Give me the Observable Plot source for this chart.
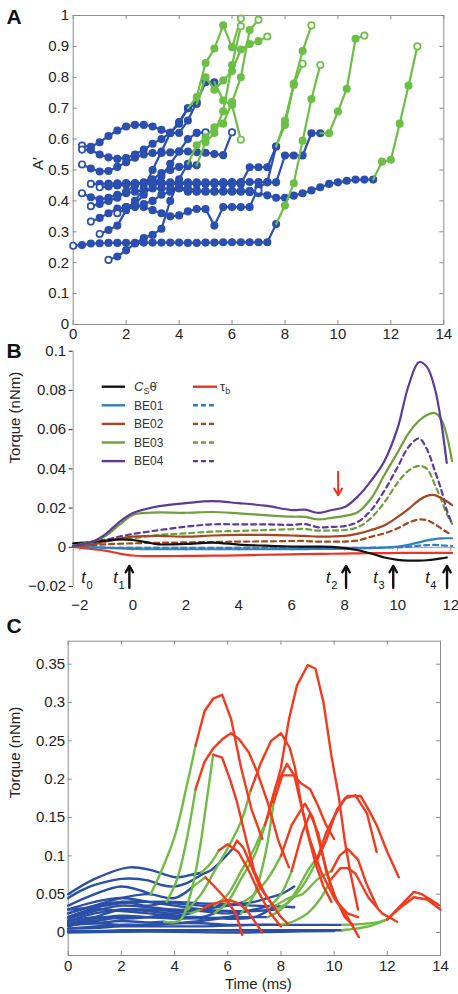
<!DOCTYPE html>
<html><head><meta charset="utf-8">
<script src="https://cdn.jsdelivr.net/npm/d3@7"></script>
<script src="https://cdn.jsdelivr.net/npm/@observablehq/plot@0.6"></script>
<style>
html,body{margin:0;padding:0;background:#fff;overflow:hidden;}
#root{position:relative;width:458px;height:994px;}
#root svg{position:absolute;left:0;}
</style></head><body><div id="root"></div>
<script>
const FONT = "Liberation Sans, Arial, Helvetica, sans-serif";
const W = 458;

// ---------- Panel A data: trajectories sampled every 1/3 ms (f0 = first frame) ----------
const xTicksA = [0,2,4,6,8,10,12,14];
const yTicksA = [0,0.1,0.2,0.3,0.4,0.5,0.6,0.7,0.8,0.9,1];
const trajA = [
  {f0:0, nBlue:24, a:[0.255,0.257,0.262,0.263,0.264,0.264,0.264,0.264,0.265,0.265,0.265,0.265,0.265,0.264,0.264,0.265,0.265,0.266,0.266,0.266,0.266,0.266,0.266,0.325,0.385,0.457,0.595,0.73,0.84]},
  {f0:1, nBlue:16, a:[0.579,0.575,0.59,0.61,0.628,0.641,0.646,0.646,0.641,0.63,0.62,0.62,0.66,0.72,0.784,0.784,0.725,0.71,0.598]},
  {f0:1, nBlue:13, a:[0.566,0.565,0.55,0.541,0.536,0.539,0.55,0.566,0.585,0.60,0.62,0.655,0.70,0.736,0.846,0.893,0.968,0.897,0.99]},
  {f0:1, nBlue:18, a:[0.518,0.505,0.495,0.497,0.51,0.525,0.54,0.55,0.555,0.555,0.557,0.56,0.56,0.558,0.556,0.552,0.548,0.622]},
  {f0:2, nBlue:22, a:[0.455,0.455,0.456,0.457,0.458,0.458,0.458,0.459,0.459,0.46,0.46,0.46,0.46,0.46,0.46,0.461,0.461,0.461,0.461,0.461,0.461,0.576,0.66,0.78,0.885,0.968]},
  {f0:1, nBlue:34, a:[0.425,0.412,0.405,0.41,0.42,0.425,0.43,0.435,0.44,0.44,0.44,0.442,0.44,0.435,0.432,0.43,0.43,0.43,0.43,0.428,0.425,0.418,0.41,0.41,0.417,0.425,0.434,0.444,0.455,0.46,0.465,0.469,0.469,0.469,0.527,0.533,0.65,0.773,0.90]},
  {f0:2, nBlue:27, a:[0.333,0.345,0.36,0.375,0.38,0.385,0.38,0.37,0.36,0.35,0.353,0.366,0.374,0.374,0.32,0.38,0.38,0.38,0.38,0.444,0.46,0.46,0.547,0.547,0.547,0.619,0.619,0.619,0.689,0.763,0.925,0.935]},
  {f0:4, nBlue:10, a:[0.209,0.22,0.24,0.262,0.28,0.29,0.31,0.40,0.47,0.52,0.58,0.606,0.638,0.65,0.72,0.8,0.953,0.986]},
  {f0:2, nBlue:13, a:[0.383,0.39,0.4,0.41,0.43,0.45,0.46,0.47,0.49,0.5,0.51,0.512,0.515,0.59,0.62,0.69,0.84,0.965]},
  {f0:3, nBlue:12, a:[0.293,0.306,0.32,0.37,0.40,0.44,0.50,0.56,0.62,0.65,0.70,0.714,0.80,0.76,0.79,0.82,0.89,0.908,0.917,0.932]},
  {f0:6, nBlue:10, a:[0.38,0.39,0.42,0.45,0.48,0.52,0.56,0.60,0.62,0.622]},
  {f0:3, nBlue:21, a:[0.444,0.447,0.45,0.452,0.455,0.455,0.455,0.455,0.455,0.455,0.455,0.455,0.455,0.455,0.455,0.455,0.455,0.509,0.509,0.509,0.576,0.646,0.775,0.844]},
  {f0:5, nBlue:17, a:[0.36,0.375,0.38,0.39,0.40,0.42,0.43,0.44,0.43,0.43,0.43,0.432,0.433,0.433,0.433,0.433,0.434]}
];

// ---------- Panel B data ----------
const xTicksB = [-2,0,2,4,6,8,10,12];
const yTicksB = [-0.02,0,0.02,0.04,0.06,0.08,0.1];
const tB = [-2.25,-1.5,-1,-0.5,0,0.5,1,2,3,4,5,6,6.5,7,7.5,8,8.5,9,9.5,10,10.4,10.8,11.1,11.4,11.65,11.85,12.05];
const csTheta  = [0.002,0.0028,0.0034,0.004,0.0037,0.0026,0.0015,0.0017,0.0024,0.0014,0.0008,0.0004,0.0003,0.0003,0.0002,-0.0004,-0.0015,-0.0032,-0.0052,-0.0064,-0.0068,-0.0068,-0.0066,-0.0062,-0.0057,-0.0052,NaN];
const tauB     = [0.0002,-0.001,-0.0018,-0.0032,-0.0042,-0.0045,-0.0045,-0.0044,-0.0043,-0.0041,-0.0038,-0.0036,-0.0035,-0.0034,-0.0033,-0.0032,-0.0031,-0.003,-0.003,-0.0029,-0.0029,-0.0029,-0.0029,-0.0029,-0.0029,-0.0029,-0.0029];
const be01     = [0.0003,0,-0.0003,-0.0006,-0.0008,-0.001,-0.001,-0.001,-0.001,-0.001,-0.001,-0.0009,-0.0009,-0.0008,-0.0008,-0.0007,-0.0006,-0.0004,-0.0002,0.0003,0.0012,0.0025,0.0035,0.0042,0.0045,0.0046,0.0046];
const be01d    = [0.0002,0,-0.0002,-0.0003,-0.0003,-0.0003,-0.0003,-0.0003,-0.0003,-0.0003,-0.0003,-0.0003,-0.0003,-0.0003,-0.0003,-0.0003,-0.0003,-0.0002,-0.0001,0,0.0003,0.0008,0.0011,0.0012,0.001,0.0008,0.0007];
const be02     = [0.0005,0.0015,0.003,0.0045,0.0054,0.0057,0.0058,0.0054,0.006,0.0063,0.0063,0.006,0.0058,0.0054,0.0055,0.0058,0.007,0.0088,0.0112,0.0155,0.0195,0.024,0.0262,0.0266,0.025,0.0235,0.0215];
const be02d    = [0.0003,0.001,0.0015,0.0018,0.002,0.0022,0.0023,0.0025,0.0027,0.0029,0.003,0.0032,0.0032,0.0029,0.0029,0.0029,0.0035,0.0054,0.0071,0.0097,0.0125,0.0142,0.0138,0.0118,0.0095,0.0078,0.0063];
const be03     = [0.0007,0.003,0.006,0.0115,0.0165,0.0175,0.0178,0.0176,0.018,0.0173,0.0164,0.0156,0.0155,0.0142,0.015,0.016,0.018,0.025,0.037,0.0485,0.058,0.0645,0.0675,0.0685,0.065,0.057,0.044];
const be03d    = [0.0003,0.002,0.003,0.004,0.0046,0.0055,0.0063,0.0071,0.008,0.0083,0.0088,0.0092,0.0093,0.0085,0.0086,0.0088,0.0103,0.015,0.023,0.033,0.039,0.0415,0.040,0.032,0.024,0.017,0.012];
const be04     = [0.0007,0.003,0.007,0.013,0.0175,0.0195,0.021,0.0225,0.0235,0.0225,0.0212,0.019,0.0192,0.0175,0.019,0.0205,0.026,0.034,0.044,0.061,0.082,0.0944,0.092,0.081,0.063,0.043,NaN];
const be04d    = [0.0003,0.003,0.004,0.0055,0.0068,0.0078,0.0088,0.0105,0.0117,0.0117,0.0117,0.0114,0.0118,0.0102,0.0104,0.0108,0.013,0.019,0.029,0.041,0.051,0.0555,0.05,0.039,0.029,0.019,0.012];
const legendNames = ["BE01","BE02","BE03","BE04"];
const eventNames = ["0","1","2","3","4"];
const eventLabelX = [-1.86,-0.65,7.38,9.16,11.12];
const eventArrowX = [-0.13,8.05,9.83,11.86];
const redArrowX = [7.75];

// ---------- Panel C data: [time, torque] points; b = last blue index, g = last green index ----------
const xTicksC = [0,2,4,6,8,10,12,14];
const yTicksC = [0,0.05,0.1,0.15,0.2,0.25,0.3,0.35];
const curvesC = [
  {b:3, g:7, p:[[0,0.035],[1,0.05],[2,0.06],[3.1,0.05],[3.5,0.08],[4,0.125],[4.45,0.19],[4.79,0.244],[5.13,0.289],[5.45,0.305],[5.79,0.31],[6.13,0.278],[6.5,0.215],[6.9,0.16],[7.3,0.122]]},
  {b:4, g:7, p:[[0,0.02],[1,0.032],[2,0.04],[3,0.035],[3.7,0.04],[4.1,0.07],[4.45,0.12],[4.79,0.187],[5.13,0.223],[5.45,0.24],[5.79,0.252],[6.12,0.26],[6.43,0.252],[6.79,0.235],[7.1,0.21],[7.5,0.17],[7.9,0.12],[8.3,0.085]]},
  {b:4, g:9, p:[[0,0.01],[1,0.012],[2,0.015],[3,0.013],[3.6,0.014],[4.2,0.016],[4.6,0.05],[4.95,0.11],[5.2,0.17],[5.45,0.232],[5.79,0.228],[6.1,0.198],[6.35,0.17],[6.7,0.12],[7.0,0.08],[7.4,0.05],[7.8,0.03]]},
  {b:5, g:10, p:[[0,0.012],[1,0.02],[2,0.03],[3,0.028],[4,0.025],[4.5,0.03],[5,0.05],[5.5,0.08],[6,0.11],[6.5,0.145],[6.86,0.185],[7.23,0.22],[7.63,0.25],[8.0,0.26],[8.33,0.241],[8.53,0.215],[8.74,0.172],[9.0,0.13],[9.3,0.09],[9.6,0.06],[9.9,0.04]]},
  {b:6, g:10, p:[[0,0.015],[1,0.025],[2,0.03],[3,0.03],[4,0.028],[5,0.03],[5.5,0.035],[6,0.05],[6.5,0.08],[7,0.11],[7.5,0.15],[8,0.215],[8.3,0.278],[8.6,0.322],[9.01,0.349],[9.3,0.344],[9.6,0.3],[9.9,0.23],[10.18,0.176],[10.4,0.12],[10.6,0.08],[10.9,0.03]]},
  {b:6, g:10, p:[[0,0.008],[1,0.015],[2,0.02],[3,0.02],[4,0.018],[5,0.02],[5.5,0.025],[6,0.04],[6.5,0.07],[7,0.1],[7.4,0.14],[7.8,0.19],[8.23,0.22],[8.5,0.205],[8.8,0.16],[9.1,0.12],[9.5,0.08],[10,0.045],[10.5,0.02],[10.93,-0.006]]},
  {b:7, g:10, p:[[0,0.005],[1,0.008],[2,0.01],[3,0.01],[4,0.012],[5,0.015],[6,0.02],[6.5,0.025],[7,0.05],[7.4,0.1],[7.73,0.17],[8.05,0.205],[8.49,0.205],[8.74,0.195],[9.1,0.187],[9.4,0.165],[9.7,0.14],[10.0,0.122]]},
  {b:7, g:10, p:[[0,0.025],[1,0.035],[2,0.04],[3,0.04],[4,0.038],[5,0.035],[6,0.035],[6.6,0.04],[7,0.05],[7.5,0.07],[8,0.1],[8.4,0.14],[8.9,0.168],[9.2,0.15],[9.5,0.11],[9.8,0.07],[10.1,0.04],[10.5,0.025],[10.9,0.02]]},
  {b:8, g:10, p:[[0,0.018],[1,0.028],[2,0.035],[3,0.033],[4,0.03],[5,0.028],[6,0.025],[7,0.03],[7.6,0.035],[8,0.05],[8.4,0.08],[8.8,0.13],[9.1,0.155],[9.4,0.13],[9.7,0.08],[10,0.05],[10.4,0.02],[10.7,0.01]]},
  {b:8, g:12, p:[[0,0.01],[1,0.018],[2,0.022],[3,0.02],[4,0.02],[5,0.018],[6,0.02],[7,0.02],[7.5,0.02],[8,0.03],[8.5,0.05],[9,0.08],[9.4,0.1],[9.7,0.13],[9.98,0.15],[10.4,0.175],[10.8,0.179],[11.24,0.155],[11.6,0.105]]},
  {b:8, g:11, p:[[0,0.03],[1,0.04],[2,0.045],[3,0.04],[4,0.035],[5,0.03],[6,0.028],[7,0.028],[7.8,0.03],[8.3,0.04],[8.8,0.06],[9.3,0.09],[9.7,0.12],[10.1,0.16],[10.5,0.178],[11.0,0.178],[11.3,0.16],[11.6,0.14],[12.0,0.105],[12.43,0.072]]},
  {b:8, g:12, p:[[0,0.012],[1,0.015],[2,0.02],[3,0.02],[4,0.02],[5,0.02],[6,0.018],[7,0.02],[7.8,0.035],[8.3,0.045],[8.8,0.05],[9.4,0.07],[9.9,0.08],[10.2,0.1],[10.5,0.109],[10.9,0.095],[11.2,0.065],[11.62,0.033]]},
  {b:8, g:12, p:[[0,0.005],[1,0.006],[2,0.008],[3,0.008],[4,0.008],[5,0.008],[6,0.009],[7,0.01],[8,0.01],[8.5,0.015],[9,0.025],[9.5,0.045],[9.9,0.07],[10.24,0.084],[10.5,0.084],[10.8,0.077],[11.3,0.045],[11.8,0.025],[12.37,0.014]]},
  {b:10, g:13, p:[[0,0.002],[1,0.002],[2,0.003],[3,0.003],[4,0.003],[5,0.003],[6,0.003],[7,0.003],[8,0.003],[9,0.003],[10.3,0.003],[10.8,0.005],[11.4,0.009],[12.0,0.017],[12.5,0.035],[13.0,0.053],[13.3,0.05],[13.94,0.036]]},
  {b:10, g:13, p:[[0,0.01],[1,0.012],[2,0.01],[3,0.01],[4,0.012],[5,0.012],[6,0.01],[7,0.01],[8,0.01],[9,0.01],[10.3,0.01],[11,0.011],[11.6,0.013],[12.0,0.017],[12.4,0.03],[13.0,0.046],[13.5,0.043],[14,0.03]]},
  {b:11, g:11, p:[[0,0.045],[0.5,0.055],[1,0.062],[2,0.07],[3,0.068],[3.5,0.062],[4,0.06],[4.5,0.065],[5,0.075],[5.4,0.082],[5.8,0.095],[6.2,0.11],[6.35,0.12],[6.6,0.11],[6.9,0.085],[7.2,0.06],[7.6,0.04],[8.0,0.02],[8.3,0.01]]},
  {b:6, g:8, p:[[0,0.05],[1,0.07],[2.3,0.085],[3.15,0.081],[4.03,0.072],[4.6,0.075],[5.0,0.078],[5.35,0.09],[5.66,0.107],[6.0,0.115],[6.4,0.105],[6.8,0.08],[7.2,0.05],[7.6,0.025],[8.0,0.008]]},
  {b:5, g:6, p:[[0,0.02],[1,0.03],[2,0.028],[3,0.025],[4,0.022],[4.6,0.025],[5.0,0.03],[5.35,0.036],[5.7,0.04],[6.1,0.042],[6.4,0.038],[6.7,0.03],[7.1,0.01],[7.3,0.0]]},
  {b:5, g:7, p:[[0,0.025],[1,0.035],[2,0.045],[3,0.05],[4,0.045],[4.7,0.06],[5.0,0.068],[5.16,0.072],[5.5,0.06],[5.9,0.045],[6.3,0.025],[6.55,-0.003]]},
  {b:5, g:5, p:[[0,0.0],[2,0.001],[4,0.001],[6,0.0],[8,0.001],[10,0.002]]},
  {b:10, g:10, p:[[0,0.015],[1,0.02],[2,0.018],[3,0.02],[4,0.025],[5,0.03],[6,0.035],[7,0.04],[7.5,0.045],[8,0.05],[8.5,0.06]]},
  {b:9, g:9, p:[[0,0.03],[1,0.033],[2,0.038],[3,0.04],[4,0.04],[5,0.038],[6,0.037],[7,0.035],[8,0.034],[8.5,0.033]]}
];

// ---------- helpers ----------
const fmtNum = d => (d < 0 ? "\u2212" : "") + String(Math.abs(+(+d).toFixed(4)));
function insetTicks(xt, yt, h, w, len, color) {
  return [
    Plot.tickX(xt, {x: d => d, insetTop: h - len, stroke: color}),
    Plot.tickX(xt, {x: d => d, insetBottom: h - len, stroke: color}),
    Plot.tickY(yt, {y: d => d, insetRight: w - len, stroke: color}),
    Plot.tickY(yt, {y: d => d, insetLeft: w - len, stroke: color})
  ];
}
const baseStyle = {fontFamily: FONT, fontSize: "15px", color: "#222", background: "transparent", overflow: "visible"};
const root = document.getElementById("root");
function place(svg, top) { svg.style.position = "absolute"; svg.style.left = "0px"; svg.style.top = top + "px"; root.appendChild(svg); }

// ================= Panel A =================
{
  const H = 345, mL = 72.7, mR = 14.7, mT = 15, mB = 21;
  const BLUE = "#2a4fb0", GREEN = "#6cbf45";
  const blueLine = [], greenLine = [], blueDots = [], greenDots = [];
  trajA.forEach((tr, k) => {
    const n = tr.a.length;
    tr.a.forEach((v, i) => {
      const row = {k, t: (tr.f0 + i) / 3, v, end: i === 0 || i === n - 1};
      if (i < tr.nBlue) { blueLine.push(row); blueDots.push(row); }
      if (tr.nBlue < n && i >= tr.nBlue - 1) greenLine.push(row);
      if (i >= tr.nBlue) greenDots.push(row);
    });
  });
  const svg = Plot.plot({
    width: W, height: H, marginLeft: mL, marginRight: mR, marginTop: mT, marginBottom: mB,
    style: baseStyle,
    x: {domain: [0, 14], ticks: xTicksA, tickSize: 0, tickPadding: 4, tickFormat: fmtNum, label: null},
    y: {domain: [0, 1], ticks: yTicksA, tickSize: 0, tickPadding: 4, tickFormat: fmtNum, label: null},
    marks: [
      Plot.frame({stroke: "#8c8c8c"}),
      ...insetTicks(xTicksA, yTicksA, H - mT - mB, W - mL - mR, 4, "#8c8c8c"),
      Plot.line(blueLine, {x: "t", y: "v", z: "k", stroke: BLUE, strokeWidth: 2.2}),
      Plot.dot(blueDots, {x: "t", y: "v", r: 3.2, stroke: BLUE, strokeWidth: 1.7, fill: d => d.end ? "white" : BLUE}),
      Plot.line(greenLine, {x: "t", y: "v", z: "k", stroke: GREEN, strokeWidth: 2.2}),
      Plot.dot(greenDots, {x: "t", y: "v", r: 3.2, stroke: GREEN, strokeWidth: 1.7, fill: d => d.end ? "white" : GREEN}),
      Plot.text(["A\u2032"], {text: d => d, frameAnchor: "left", dx: -34.7, rotate: -90, lineAnchor: "middle", fontSize: 15, fill: "#222"})
    ]
  });
  place(svg, 0);
}

// ================= Panel B =================
{
  const H = 270, mL = 72.7, mR = 3, mT = 10.7, mB = 24;
  const h = H - mT - mB;
  const yZero = (0.1 - 0) / 0.12 * h;
  const C = {cs: "#111111", be01: "#2f7fc8", be02: "#a4461e", be03: "#6f9e3a", be04: "#5b3a9c", tau: "#ee3322"};
  const series = [
    {v: be01d, c: C.be01, dash: "5,4"}, {v: be02d, c: C.be02, dash: "5,4"},
    {v: be03d, c: C.be03, dash: "5,4"}, {v: be04d, c: C.be04, dash: "5,4"},
    {v: tauB, c: C.tau, dash: null}, {v: be01, c: C.be01, dash: null},
    {v: be02, c: C.be02, dash: null}, {v: csTheta, c: C.cs, dash: null},
    {v: be03, c: C.be03, dash: null}, {v: be04, c: C.be04, dash: null}
  ];
  const lineMarks = series.map(s => Plot.line(
    tB.map((x, i) => ({x, y: s.v[i]})).filter(d => !isNaN(d.y)),
    {x: "x", y: "y", stroke: s.c, strokeWidth: 2.2, strokeDasharray: s.dash || undefined, curve: "catmull-rom"}));
  const labelRows = eventNames.map((n, i) => ({n, x: eventLabelX[i]}));
  const svg = Plot.plot({
    width: W, height: H, marginLeft: mL, marginRight: mR, marginTop: mT, marginBottom: mB,
    style: baseStyle,
    x: {domain: [-2.25, 12.18], ticks: xTicksB, tickSize: 0, tickPadding: 13, tickFormat: fmtNum, label: null},
    y: {domain: [-0.02, 0.1], ticks: yTicksB, tickSize: 4, tickPadding: 3, tickFormat: fmtNum, label: null},
    marks: [
      Plot.ruleX([-2.25], {stroke: "#999"}),
      Plot.ruleY([0], {stroke: "#999"}),
      Plot.tickX(xTicksB, {x: d => d, insetTop: yZero, insetBottom: h - yZero - 4, stroke: "#999"}),
      ...lineMarks,
      Plot.arrow(eventArrowX, {x1: d => d, x2: d => d, y1: -0.0207, y2: -0.0095, stroke: "#111", strokeWidth: 2.4, headLength: 9}),
      Plot.arrow(redArrowX, {x1: d => d, x2: d => d, y1: 0.0385, y2: 0.0265, stroke: C.tau, strokeWidth: 2, headLength: 9}),
      Plot.text(labelRows, {x: "x", y: -0.0157, text: () => "t", fontStyle: "italic", fontSize: 16, fill: "#111", lineAnchor: "middle"}),
      Plot.text(labelRows, {x: "x", y: -0.0157, text: "n", fontSize: 11, dx: 6, dy: 7, fill: "#111", lineAnchor: "middle"}),
      Plot.text(["Torque (nNm)"], {text: d => d, frameAnchor: "left", dx: -57.7, dy: -5.4, rotate: -90, lineAnchor: "middle", fontSize: 15, fill: "#222"})
    ]
  });
  // legend (two columns: solid and dashed)
  const g = d3.select(svg).append("g").attr("font-family", FONT).attr("font-size", 12).attr("fill", "#333").attr("text-anchor", "start");
  const rowsY = [46.7, 65.3, 83.9, 102.5, 121.1];
  const leftCols = [C.cs, C.be01, C.be02, C.be03, C.be04];
  const rightCols = [C.tau, C.be01, C.be02, C.be03, C.be04];
  rowsY.forEach((y, i) => {
    g.append("line").attr("x1", 101.7).attr("x2", 125).attr("y1", y).attr("y2", y).attr("stroke", leftCols[i]).attr("stroke-width", 2.4);
    g.append("line").attr("x1", 193).attr("x2", 217).attr("y1", y).attr("y2", y).attr("stroke", rightCols[i]).attr("stroke-width", 2.4)
      .attr("stroke-dasharray", i === 0 ? null : "5,3");
    if (i > 0) g.append("text").attr("x", 134).attr("y", y + 4.3).text(legendNames[i - 1]);
  });
  const t0 = g.append("text").attr("x", 134).attr("y", rowsY[0] + 4.3);
  t0.append("tspan").attr("font-style", "italic").attr("font-size", 13).text("C");
  t0.append("tspan").attr("font-size", 9).attr("dy", 3).text("S");
  t0.append("tspan").attr("dy", -3).attr("font-size", 13).text("\u03B8\u0307");
  const t1 = g.append("text").attr("x", 220).attr("y", rowsY[0] + 4.3);
  t1.append("tspan").attr("font-size", 13).text("\u03C4");
  t1.append("tspan").attr("font-size", 9).attr("dy", 3).text("b");
  place(svg, 340);
}

// ================= Panel C =================
{
  const H = 384, mL = 67.7, mR = 18, mT = 30.7, mB = 39;
  const BLUE = "#2b4fa6", GREEN = "#70bb45", RED = "#f23a1e";
  const blue = [], green = [], red = [];
  curvesC.forEach((c, k) => {
    const n = c.p.length;
    c.p.forEach(([t, v], i) => {
      const row = {k, t, v};
      if (i <= c.b) blue.push(row);
      if (c.g > c.b && i >= c.b && i <= c.g) green.push(row);
      if (c.g < n - 1 && i >= c.g) red.push(row);
    });
  });
  const svg = Plot.plot({
    width: W, height: H, marginLeft: mL, marginRight: mR, marginTop: mT, marginBottom: mB,
    style: baseStyle,
    x: {domain: [0, 14], ticks: xTicksC, tickSize: 0, tickPadding: 5, tickFormat: fmtNum, label: null},
    y: {domain: [-0.03, 0.38], ticks: yTicksC, tickSize: 0, tickPadding: 3, tickFormat: fmtNum, label: null},
    marks: [
      Plot.frame({stroke: "#8c8c8c"}),
      ...insetTicks(xTicksC, yTicksC, H - mT - mB, W - mL - mR, 4, "#8c8c8c"),
      Plot.line(blue, {x: "t", y: "v", z: "k", stroke: BLUE, strokeWidth: 2.4, curve: "catmull-rom"}),
      Plot.line(green, {x: "t", y: "v", z: "k", stroke: GREEN, strokeWidth: 2.4, curve: "catmull-rom"}),
      Plot.line(red, {x: "t", y: "v", z: "k", stroke: RED, strokeWidth: 2.4, curve: "linear"}),
      Plot.text(["Time (ms)"], {text: d => d, frameAnchor: "bottom", dx: 4, dy: 29, lineAnchor: "middle", fontSize: 15, fill: "#222"}),
      Plot.text(["Torque (nNm)"], {text: d => d, frameAnchor: "left", dx: -52.7, rotate: -90, lineAnchor: "middle", fontSize: 15, fill: "#222"})
    ]
  });
  place(svg, 610);
}

// panel letters
{
  const svg = d3.create("svg").attr("width", W).attr("height", 994)
    .style("position", "absolute").style("left", "0px").style("top", "0px").style("pointer-events", "none");
  [["A", 24], ["B", 358.3], ["C", 633.3]].forEach(([t, y]) =>
    svg.append("text").attr("x", 6.5).attr("y", y).attr("font-family", FONT).attr("font-weight", "bold").attr("font-size", 21).attr("fill", "#111").text(t));
  root.appendChild(svg.node());
}
</script></body></html>
